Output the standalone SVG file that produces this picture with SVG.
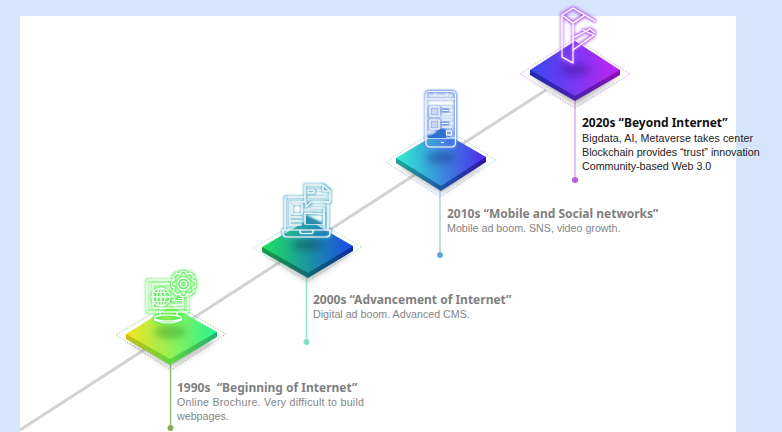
<svg xmlns="http://www.w3.org/2000/svg" width="782" height="432" viewBox="0 0 782 432">
<style>
.h{font-family:"Noto Sans","Liberation Sans",sans-serif;font-weight:700;font-size:12px;fill:#7f7f7f;white-space:pre}
.b{font-family:"Liberation Sans",Arial,sans-serif;font-size:10.7px;fill:#858585}
.k{fill:#111}.d{fill:#222}
.dash{fill:none;stroke-width:.9;stroke-dasharray:1.5 1.5;stroke-linejoin:round}
.i{fill:none;stroke:#fff;stroke-width:1.1;stroke-linejoin:round}
.stem{stroke-width:1.5;fill:none}
.spot{opacity:.45}
</style>
<defs>
<linearGradient id="g1" x1="0" x2="1" y1="0" y2="0"><stop offset="0" stop-color="#f4e41e"/><stop offset=".5" stop-color="#94f058"/><stop offset="1" stop-color="#22f590"/></linearGradient>
<linearGradient id="s1" x1="0" x2="1" y1="0" y2="0"><stop offset="0" stop-color="#cdbc14"/><stop offset=".5" stop-color="#5cd840"/><stop offset="1" stop-color="#22b070"/></linearGradient>
<linearGradient id="g2" x1="0" x2="1" y1="0" y2="0"><stop offset="0" stop-color="#1fe45e"/><stop offset=".5" stop-color="#1c95a0"/><stop offset="1" stop-color="#1a48ea"/></linearGradient>
<linearGradient id="s2" x1="0" x2="1" y1="0" y2="0"><stop offset="0" stop-color="#14a048"/><stop offset=".5" stop-color="#0e6a70"/><stop offset="1" stop-color="#0e2aa0"/></linearGradient>
<linearGradient id="g3" x1="0" x2="1" y1="0" y2="0"><stop offset="0" stop-color="#2ef0cf"/><stop offset=".5" stop-color="#3a8cdc"/><stop offset="1" stop-color="#4f28ee"/></linearGradient>
<linearGradient id="s3" x1="0" x2="1" y1="0" y2="0"><stop offset="0" stop-color="#20a898"/><stop offset=".5" stop-color="#1a58a8"/><stop offset="1" stop-color="#3410a8"/></linearGradient>
<linearGradient id="g4" x1="0" x2="1" y1="0" y2="0"><stop offset="0" stop-color="#3848f0"/><stop offset=".5" stop-color="#7a38f2"/><stop offset="1" stop-color="#c422f0"/></linearGradient>
<linearGradient id="s4" x1="0" x2="1" y1="0" y2="0"><stop offset="0" stop-color="#2028b0"/><stop offset=".5" stop-color="#4a20b0"/><stop offset="1" stop-color="#8a10b0"/></linearGradient>
<filter id="bl" x="-50%" y="-50%" width="200%" height="200%"><feGaussianBlur stdDeviation="3.500"/></filter>
<filter id="fg" x="-30%" y="-30%" width="160%" height="160%"><feMorphology in="SourceAlpha" operator="dilate" radius=".7"/><feGaussianBlur stdDeviation="1.200" result="a"/><feFlood flood-color="#4cf04c"/><feComposite in2="a" operator="in"/><feMerge><feMergeNode/><feMergeNode in="SourceGraphic"/></feMerge></filter>
<filter id="ft" x="-30%" y="-30%" width="160%" height="160%"><feMorphology in="SourceAlpha" operator="dilate" radius=".7"/><feGaussianBlur stdDeviation="1.200" result="a"/><feFlood flood-color="#3fa8c4"/><feComposite in2="a" operator="in"/><feMerge><feMergeNode/><feMergeNode in="SourceGraphic"/></feMerge></filter>
<filter id="fb" x="-30%" y="-30%" width="160%" height="160%"><feMorphology in="SourceAlpha" operator="dilate" radius=".7"/><feGaussianBlur stdDeviation="1.200" result="a"/><feFlood flood-color="#5c8ce4"/><feComposite in2="a" operator="in"/><feMerge><feMergeNode/><feMergeNode in="SourceGraphic"/></feMerge></filter>
<filter id="fp" x="-30%" y="-30%" width="160%" height="160%"><feMorphology in="SourceAlpha" operator="dilate" radius=".7"/><feGaussianBlur stdDeviation="1.400" result="a"/><feFlood flood-color="#b050f0"/><feComposite in2="a" operator="in"/><feMerge><feMergeNode/><feMergeNode in="SourceGraphic"/></feMerge></filter>
</defs>
<rect width="782" height="432" fill="#d6e5fb"/>
<rect x="20" y="16" width="716" height="416" fill="#fff"/>

<g id="connectors">
<path d="M20 430L546 90" stroke="#d2d2d2" stroke-width="3" fill="none"/>
<path class="stem" d="M170.500 362V428" stroke="#9cbc74"/><circle cx="170.500" cy="428" r="3" fill="#8aad5c"/>
<path class="stem" d="M306.500 276V342" stroke="#96e6cc"/><circle cx="306.500" cy="342" r="3" fill="#84e2c4"/>
<path class="stem" d="M440 188V255" stroke="#a9d2f2"/><circle cx="440" cy="255" r="3" fill="#62a8de"/>
<path class="stem" d="M575 100V180" stroke="#dcaaf2"/><circle cx="575" cy="180" r="3" fill="#b65ce0"/>
</g>

<g id="node-1990s">
<path class="dash" d="M171 302L226 334L171 370L116 335Z" stroke="#9cbc84"/>
<path d="M128 340L171 366L216 340Z" fill="#555" opacity=".55" filter="url(#bl)"/>
<path d="M126 334V339L170 365L217 337V332Z" fill="url(#s1)"/>
<path d="M171 306L217 332L170 359L126 334Z" fill="url(#g1)"/>
<ellipse class="spot" cx="170" cy="332" rx="16" ry="7" fill="#2a9a2a" filter="url(#bl)"/>
<g class="i" filter="url(#fg)">
<path d="M174 280H149Q147 280 147 282V310Q147 312 149 312H186Q188 312 188 310V294"/>
<path d="M170 284H153V308H183V296"/>
<circle cx="161" cy="297" r="9"/><ellipse cx="161" cy="297" rx="4" ry="9"/><path d="M152 297H170M153 292.500H169M153 301.500H169M161 288V306"/>
<path d="M172 301L175 299M172 300.500H183M172 305H183M178 298.500H183"/>
<circle cx="183.500" cy="284" r="6"/><circle cx="183.500" cy="284" r="3"/>
<path d="M181 271.500H186L187 274.500L190 273L194 277L192 279.500L195.500 281.500V286.500L192.500 288L194 291L190 295L187 293.500L186 296.500H181L180 293.500L177 295L173 291L174.500 288L171.500 286.500V281.500L174.500 279.500L173 277L177 273L180 274.500Z"/>
<path d="M160 312V316M177 312V316"/>
<ellipse cx="168" cy="318" rx="13.500" ry="3"/><path d="M154.500 318V320Q168 326 181.500 320V318"/>
</g>
</g>

<g id="node-2000s">
<path class="dash" d="M308 216L362 247L307 282L253 248Z" stroke="#96e0c8"/>
<path d="M265 253L308 280L350 253Z" fill="#555" opacity=".55" filter="url(#bl)"/>
<path d="M262 247V252L308 278L353 251V246Z" fill="url(#s2)"/>
<path d="M308 220L353 246L308 273L262 247Z" fill="url(#g2)"/>
<ellipse class="spot" cx="308" cy="245" rx="15" ry="6" fill="#0a4a50" filter="url(#bl)"/>
<g class="i" filter="url(#ft)">
<path d="M285 230V199Q285 197 287 197H305M324 202H328V230"/>
<path d="M290 226V202H305M311 208H324V226"/>
<path d="M283 230H330V233Q330 237 326 237H287Q283 237 283 233Z"/>
<path d="M300 230V232Q300 233.500 302 233.500H311Q313 233.500 313 232V230"/>
<rect x="292" y="204" width="10" height="10"/>
<path d="M305 185H323L330 191V202H311L306 207V202H305Z"/><path d="M323 185V191H330"/>
<path d="M308 190H314V193H308ZM317 190H321M308 197H326"/>
<path d="M291 217H302M291 221H302M291 225H302"/>
<path d="M305 213V224H324V214Z"/>
<path d="M306 216L323 224H306Z" fill="#2f8ea8" stroke="none"/>
</g>
</g>

<g id="node-2010s">
<path class="dash" d="M441 126L496 160L440 197L386 162Z" stroke="#9ccdf0"/>
<path d="M398 164L441 192L484 164Z" fill="#555" opacity=".55" filter="url(#bl)"/>
<path d="M396 158V163L441 191L486 162V157Z" fill="url(#s3)"/>
<path d="M441 131L486 157L441 186L396 158Z" fill="url(#g3)"/>
<ellipse class="spot" cx="441" cy="158" rx="15" ry="6" fill="#1a3a8a" filter="url(#bl)"/>
<g class="i" filter="url(#fb)">
<rect x="426" y="91.500" width="29.500" height="55.500" rx="4"/>
<path d="M426 99H455.500M426 138H455.500"/>
<path d="M431 96H433M438 96H444M449 96H451M441 142.500H444"/>
<rect x="430" y="107" width="9" height="9"/><rect x="430" y="120" width="9" height="9"/>
<rect x="431.500" y="108.500" width="6" height="6" fill="#c8d8f4" stroke="none"/><rect x="431.500" y="121.500" width="6" height="6" fill="#c8d8f4" stroke="none"/>
<path d="M442 107H452M442 110.500H448M442 114H452M442 120H452M442 123.500H448M442 127H452"/>
<rect x="446.500" y="131" width="5" height="4"/>
<path d="M428 136L435 134Q440 127 445 130Q446 134 446 138H428Z" fill="#2f6fd0" stroke="none"/>
</g>
</g>

<g id="node-2020s">
<path class="dash" d="M575 38L630 74L575 108L520 74Z" stroke="#d09cec"/>
<path d="M532 76L576 104L618 76Z" fill="#555" opacity=".55" filter="url(#bl)"/>
<path d="M530 70V75L575 101L620 75V70Z" fill="url(#s4)"/>
<path d="M575 41L620 70L575 96L530 70Z" fill="url(#g4)"/>
<ellipse class="spot" cx="575" cy="70" rx="15" ry="6" fill="#3a109a" filter="url(#bl)"/>
<g class="i" filter="url(#fp)">
<path d="M562 15L573 8L585 15L573 23Z"/>
<path d="M562 15V57L573 63V23"/>
<path d="M585 15L595 21M573 23L585 15"/>
<path d="M573 38L590 29L595 33M573 50L594 35L583 30"/>
</g>
</g>

<g id="labels">
<text class="h" x="177" y="392" xml:space="preserve">1990s  “Beginning of Internet”</text>
<text class="b" x="177" y="406" textLength="187">Online Brochure. Very difficult to build</text>
<text class="b" x="177" y="420">webpages.</text>
<text class="h" x="313" y="304">2000s “Advancement of Internet”</text>
<text class="b" x="313" y="318">Digital ad boom. Advanced CMS.</text>
<text class="h" x="447" y="218">2010s “Mobile and Social networks”</text>
<text class="b" x="447" y="232">Mobile ad boom. SNS, video growth.</text>
<text class="h k" x="582" y="127">2020s “Beyond Internet”</text>
<text class="b d" x="582" y="142" textLength="171">Bigdata, AI, Metaverse takes center</text>
<text class="b d" x="582" y="156">Blockchain provides “trust” innovation</text>
<text class="b d" x="582" y="170">Community-based Web 3.0</text>
</g>
</svg>
